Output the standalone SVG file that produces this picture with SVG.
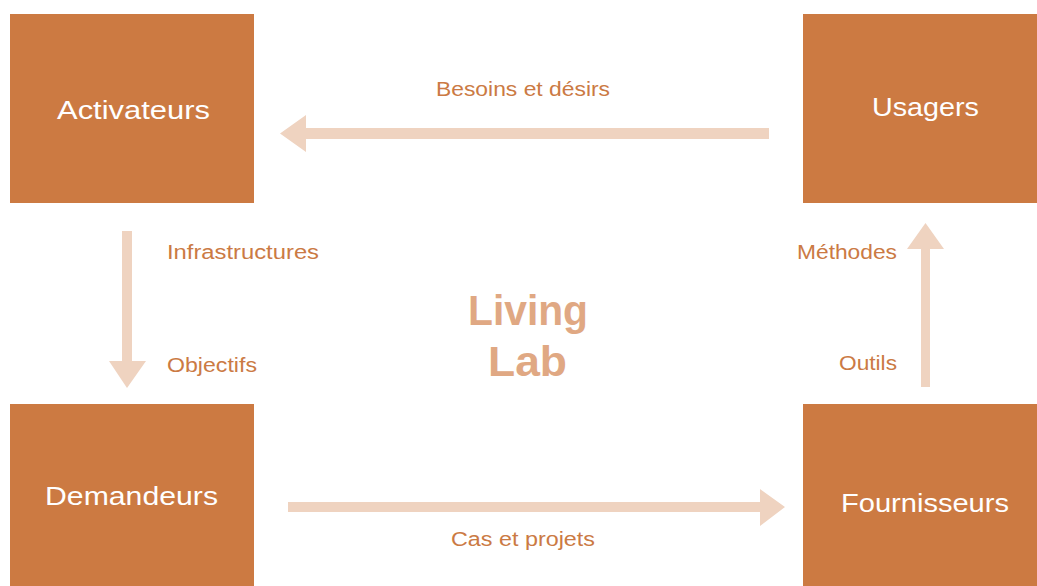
<svg xmlns="http://www.w3.org/2000/svg" width="1037" height="586" viewBox="0 0 1037 586">
  <style>
    .box { fill: #CC7A42; }
    .ntext { fill: #FFFFFF; font-family: "Liberation Sans", Arial, sans-serif; font-size: 26px; }
    .arrow { fill: #EFD3C0; }
    .lbl { fill: #CB7A44; font-family: "Liberation Sans", Arial, sans-serif; font-size: 20px; }
    .title { fill: #E0A883; font-family: "Liberation Sans", Arial, sans-serif; font-size: 42px; font-weight: bold; }
  </style>
  <rect width="1037" height="586" fill="#FFFFFF"/>
  <g id="connectors">
    <polygon class="arrow" points="769,128 306,128 306,115 280,133.5 306,152 306,139 769,139"/>
    <polygon class="arrow" points="122,231 132,231 132,361 146,361 127,388 109,361 122,361"/>
    <polygon class="arrow" points="921,387 930,387 930,249 944,249 925.5,223 907,249 921,249"/>
    <polygon class="arrow" points="288,502 760,502 760,489 785,507 760,526 760,512 288,512"/>
    <text class="lbl" x="436" y="96" textLength="174" lengthAdjust="spacingAndGlyphs">Besoins et désirs</text>
    <text class="lbl" x="167" y="259" textLength="152" lengthAdjust="spacingAndGlyphs">Infrastructures</text>
    <text class="lbl" x="167" y="372" textLength="90" lengthAdjust="spacingAndGlyphs">Objectifs</text>
    <text class="lbl" x="797" y="259" textLength="100" lengthAdjust="spacingAndGlyphs">Méthodes</text>
    <text class="lbl" x="839" y="370" textLength="58" lengthAdjust="spacingAndGlyphs">Outils</text>
    <text class="lbl" x="451" y="546" textLength="144" lengthAdjust="spacingAndGlyphs">Cas et projets</text>
  </g>
  <g id="title">
    <text class="title" x="468" y="325" textLength="120" lengthAdjust="spacingAndGlyphs">Living</text>
    <text class="title" x="488" y="376" textLength="79" lengthAdjust="spacingAndGlyphs">Lab</text>
  </g>
  <g id="activateurs">
    <rect class="box" x="10" y="14" width="244" height="189"/>
    <text class="ntext" x="57" y="119" textLength="153" lengthAdjust="spacingAndGlyphs">Activateurs</text>
  </g>
  <g id="usagers">
    <rect class="box" x="803" y="14" width="234" height="189"/>
    <text class="ntext" x="872" y="116" textLength="107" lengthAdjust="spacingAndGlyphs">Usagers</text>
  </g>
  <g id="demandeurs">
    <rect class="box" x="10" y="404" width="244" height="182"/>
    <text class="ntext" x="45" y="505" textLength="173" lengthAdjust="spacingAndGlyphs">Demandeurs</text>
  </g>
  <g id="fournisseurs">
    <rect class="box" x="803" y="404" width="234" height="182"/>
    <text class="ntext" x="841" y="512" textLength="168" lengthAdjust="spacingAndGlyphs">Fournisseurs</text>
  </g>
</svg>
